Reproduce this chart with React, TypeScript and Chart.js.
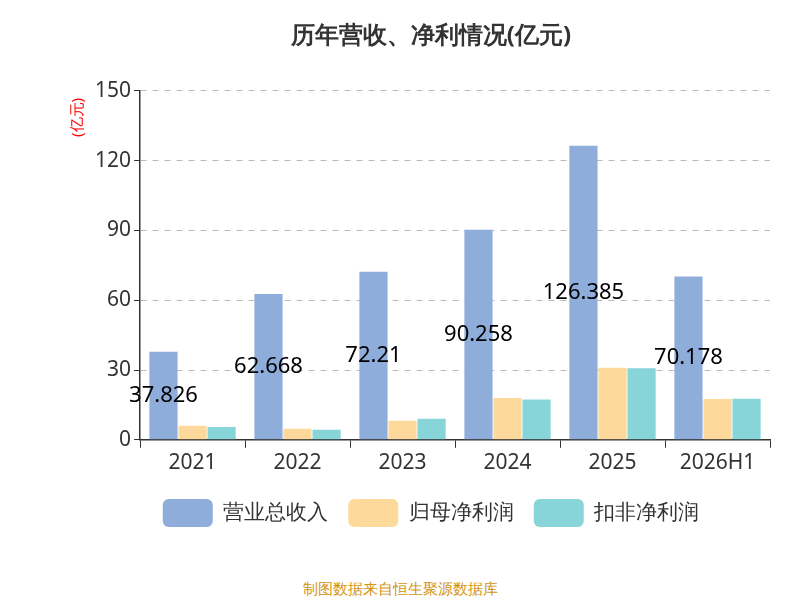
import React, { useEffect, useRef } from "react";
import { Chart, registerables } from "chart.js";
Chart.register(...registerables);

const categories = ["2021", "2022", "2023", "2024", "2025", "2026H1"];
const revenue = [37.826, 62.668, 72.21, 90.258, 126.385, 70.178];
const netProfit = [6.0, 4.7, 8.2, 18.0, 31.0, 17.5];
const deductedProfit = [5.5, 4.3, 9.0, 17.3, 30.8, 17.6];
const yTicks = [0, 30, 60, 90, 120, 150];

const labelPlugin = {
  id: "midLabels",
  afterDatasetsDraw(chart: any) {
    const ctx = chart.ctx;
    const meta = chart.getDatasetMeta(0);
    ctx.save();
    ctx.font = "22px 'Noto Sans', sans-serif";
    ctx.fillStyle = "#000";
    ctx.textAlign = "center";
    ctx.textBaseline = "middle";
    meta.data.forEach((bar: any, i: number) => {
      const y = (bar.y + bar.base) / 2;
      ctx.fillText(String(revenue[i]), bar.x, y);
    });
    ctx.restore();
  },
};

export default function App() {
  const ref = useRef<HTMLCanvasElement>(null);
  useEffect(() => {
    const chart = new Chart(ref.current!, {
      type: "bar",
      data: {
        labels: categories,
        datasets: [
          { label: "营业总收入", data: revenue, backgroundColor: "#8EADDB" },
          { label: "归母净利润", data: netProfit, backgroundColor: "#FDD99B" },
          { label: "扣非净利润", data: deductedProfit, backgroundColor: "#88D5D9" },
        ],
      },
      plugins: [labelPlugin],
      options: {
        animation: false,
        responsive: false,
        layout: { padding: { left: 92, right: 30, top: 14, bottom: 33 } },
        datasets: { bar: { categoryPercentage: 0.83, barPercentage: 0.97 } },
        plugins: {
          title: {
            display: true,
            text: "历年营收、净利情况(亿元)",
            font: { size: 24, weight: "bold", family: "'Noto Sans', sans-serif" },
            color: "#333",
            padding: { top: 8, bottom: 40 },
          },
          legend: {
            position: "bottom",
            labels: {
              font: { size: 21, family: "'Noto Sans', sans-serif" },
              color: "#333",
              boxWidth: 50,
              boxHeight: 28,
              useBorderRadius: true,
              borderRadius: 6,
              padding: 20,
            },
          },
          tooltip: { enabled: false },
        },
        scales: {
          x: {
            grid: { display: true, drawOnChartArea: false, drawTicks: true, tickLength: 8, tickColor: "#333", offset: true },
            border: { color: "#333", width: 1.5 },
            ticks: { font: { size: 21, family: "'Noto Sans', sans-serif" }, color: "#333" },
          },
          y: {
            min: 0,
            max: 150,
            afterBuildTicks: (s: any) => { s.ticks = yTicks.map((v) => ({ value: v })); },
            grid: { color: "#bbb", drawTicks: true, tickLength: 6, tickColor: "#333" } as any,
            border: { color: "#333", width: 1.5, dash: [6, 6] } as any,
            ticks: { font: { size: 21, family: "'Noto Sans', sans-serif" }, color: "#333" },
          },
        },
      },
    } as any);
    return () => chart.destroy();
  }, []);
  return (
    <div style={{ position: "absolute", left: 0, top: 0, width: 800, height: 600, background: "#fff" }}>
      <canvas ref={ref} width={800} height={570} />
      <div style={{ position: "absolute", left: 66, top: 92, transform: "rotate(-90deg)", transformOrigin: "left top", color: "red", fontSize: 15, fontFamily: "'Noto Sans', sans-serif", whiteSpace: "nowrap", marginTop: 45 }}>(亿元)</div>
      <div style={{ position: "absolute", left: 0, width: 800, top: 578, textAlign: "center", color: "#D4950E", fontSize: 15, fontFamily: "'Noto Sans', sans-serif" }}>制图数据来自恒生聚源数据库</div>
    </div>
  );
}
